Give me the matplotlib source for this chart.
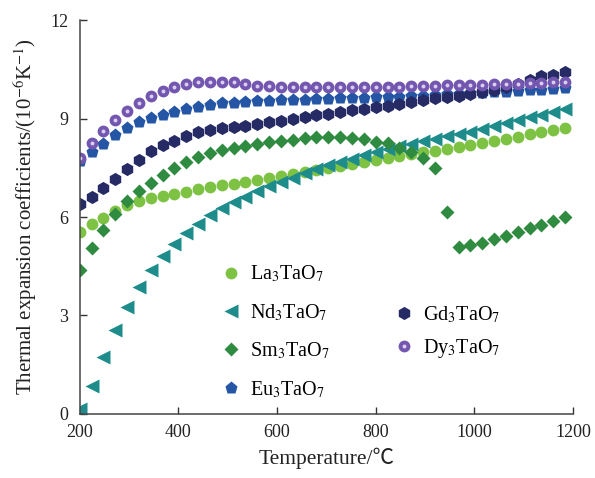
import matplotlib
matplotlib.use("Agg")
import matplotlib.pyplot as plt
from matplotlib.legend_handler import HandlerTuple

plt.rcParams["font.family"] = ["Liberation Serif", "Noto Sans CJK SC"]
plt.rcParams["mathtext.fontset"] = "stix"

temperature = [200, 224, 248, 272, 296, 320, 344, 368, 392, 416, 440, 464, 488, 512,
               536, 560, 584, 608, 632, 656, 680, 704, 728, 752, 776, 800, 824, 848,
               872, 896, 920, 944, 968, 992, 1016, 1040, 1064, 1088, 1112, 1136, 1160, 1184]

la_tec = [5.55, 5.80, 5.97, 6.18, 6.37, 6.50, 6.58, 6.64, 6.70, 6.76, 6.85, 6.92, 6.98, 7.02,
          7.08, 7.14, 7.20, 7.26, 7.32, 7.38, 7.44, 7.50, 7.56, 7.62, 7.68, 7.74, 7.80, 7.86,
          7.92, 7.97, 8.02, 8.07, 8.13, 8.20, 8.26, 8.33, 8.39, 8.45, 8.52, 8.58, 8.64, 8.72]

nd_tec = [0.15, 0.85, 1.75, 2.55, 3.25, 3.88, 4.40, 4.80, 5.18, 5.50, 5.80, 6.05, 6.27, 6.45,
          6.62, 6.78, 6.93, 7.07, 7.20, 7.33, 7.46, 7.58, 7.68, 7.78, 7.88, 7.97, 8.06, 8.15,
          8.23, 8.31, 8.39, 8.46, 8.53, 8.60, 8.67, 8.76, 8.85, 8.95, 9.04, 9.12, 9.20, 9.28]

sm_tec = [4.40, 5.05, 5.60, 6.10, 6.48, 6.80, 7.05, 7.28, 7.48, 7.68, 7.84, 7.96, 8.05, 8.10,
          8.16, 8.22, 8.28, 8.32, 8.36, 8.40, 8.43, 8.44, 8.44, 8.42, 8.38, 8.30, 8.24, 8.10,
          7.98, 7.80, 7.48, 6.15, 5.10, 5.15, 5.22, 5.32, 5.42, 5.54, 5.66, 5.77, 5.87, 6.00]

eu_tec = [7.70, 7.97, 8.22, 8.50, 8.72, 8.88, 9.01, 9.10, 9.20, 9.30, 9.36, 9.42, 9.46, 9.48,
          9.50, 9.52, 9.54, 9.56, 9.57, 9.58, 9.60, 9.61, 9.62, 9.63, 9.64, 9.65, 9.66, 9.67,
          9.69, 9.70, 9.72, 9.74, 9.75, 9.77, 9.78, 9.80, 9.82, 9.84, 9.86, 9.88, 9.90, 9.93]

gd_tec = [6.40, 6.60, 6.88, 7.15, 7.45, 7.73, 8.00, 8.18, 8.33, 8.46, 8.58, 8.66, 8.71, 8.74,
          8.78, 8.83, 8.88, 8.93, 8.98, 9.04, 9.10, 9.15, 9.20, 9.25, 9.30, 9.34, 9.38, 9.44,
          9.50, 9.56, 9.62, 9.66, 9.70, 9.76, 9.82, 9.88, 9.96, 10.05, 10.18, 10.30, 10.33, 10.42]

dy_tec = [7.80, 8.25, 8.62, 8.95, 9.23, 9.48, 9.68, 9.85, 9.97, 10.05, 10.10, 10.12, 10.12, 10.10,
          10.05, 10.00, 9.98, 9.97, 9.96, 9.95, 9.95, 9.95, 9.95, 9.95, 9.95, 9.95, 9.96, 9.97,
          9.98, 9.99, 10.00, 10.01, 10.02, 10.02, 10.03, 10.04, 10.05, 10.06, 10.07, 10.08, 10.10, 10.12]

x_ticks = [200, 400, 600, 800, 1000, 1200]
y_ticks = [0, 3, 6, 9, 12]

fig = plt.figure(figsize=(5.95, 4.78), dpi=100)
ax = fig.add_axes([0.134, 0.134, 0.829, 0.824])

la, = ax.plot(temperature, la_tec, "o", ms=8.5, color="#7dc242", mec="none", label=r"La$_3$TaO$_7$")
nd, = ax.plot(temperature, nd_tec, "<", ms=9.5, color="#1f8c8c", mec="none", label=r"Nd$_3$TaO$_7$")
sm, = ax.plot(temperature, sm_tec, "D", ms=7.5, color="#2e8b40", mec="none", label=r"Sm$_3$TaO$_7$")
eu, = ax.plot(temperature, eu_tec, "p", ms=9.5, color="#2556a5", mec="none", label=r"Eu$_3$TaO$_7$")
gd, = ax.plot(temperature, gd_tec, "h", ms=9.5, color="#262b66", mec="none", label=r"Gd$_3$TaO$_7$")
dy, = ax.plot(temperature, dy_tec, "o", ms=8.5, color="#7356b0", mec="none", label=r"Dy$_3$TaO$_7$")
# small light spot on the Dy markers
dy_spot, = ax.plot(temperature, dy_tec, "o", ms=2.8, color="#e6def5", mec="none", alpha=0.9)

ax.set_xlim(200, 1200)
ax.set_ylim(0, 12)
ax.set_xticks(x_ticks)
ax.set_yticks(y_ticks)
ax.tick_params(direction="in", length=5, width=1, labelsize=13, colors="#333333",
               labelcolor="#222222")
ax.tick_params(axis="x", pad=7)
ax.tick_params(axis="y", pad=8)
for side in ["top", "right"]:
    ax.spines[side].set_visible(False)
for side in ["left", "bottom"]:
    ax.spines[side].set_color("#444444")
    ax.spines[side].set_linewidth(1.1)

ax.set_xlabel("Temperature/℃", fontsize=15.5, color="#222222", labelpad=5)
ax.set_ylabel(r"Thermal expansion coefficients/(10$^{-6}$K$^{-1}$)", fontsize=15,
              color="#222222", labelpad=8)

leg1 = ax.legend(handles=[la, nd, sm, eu], loc="lower left", bbox_to_anchor=(0.258, 0.0),
                 frameon=False, fontsize=14.5, labelspacing=0.88, handlelength=1.0,
                 handletextpad=0.45, borderpad=0.2)
ax.add_artist(leg1)
ax.legend(handles=[gd, (dy, dy_spot)], labels=[r"Gd$_3$TaO$_7$", r"Dy$_3$TaO$_7$"],
          handler_map={tuple: HandlerTuple(ndivide=1, pad=0)},
          loc="lower left", bbox_to_anchor=(0.608, 0.1), frameon=False, fontsize=14.5,
          labelspacing=0.6, handlelength=1.0, handletextpad=0.45, borderpad=0.2)

fig.savefig("out.png", dpi=100)
